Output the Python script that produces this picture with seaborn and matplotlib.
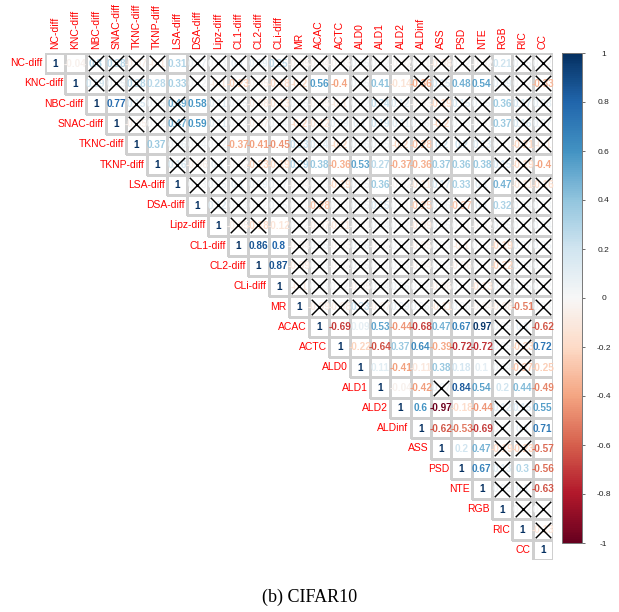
import numpy as np
import pandas as pd
import matplotlib
matplotlib.use("Agg")
import matplotlib.pyplot as plt
import seaborn as sns
from matplotlib.colors import ListedColormap, Normalize
from matplotlib.cm import ScalarMappable

variables = ["NC-diff", "KNC-diff", "NBC-diff", "SNAC-diff", "TKNC-diff", "TKNP-diff",
             "LSA-diff", "DSA-diff", "Lipz-diff", "CL1-diff", "CL2-diff", "CLi-diff",
             "MR", "ACAC", "ACTC", "ALD0", "ALD1", "ALD2", "ALDinf", "ASS", "PSD",
             "NTE", "RGB", "RIC", "CC"]

# upper-triangle correlations: row i holds values for columns i+1 .. end
upper_values = {
    "NC-diff":   [-0.04, 0.30, 0.28, -0.07, -0.10, 0.31, 0.07, 0.03, 0.10, 0.09, 0.25, -0.05,
                  -0.04, -0.03, 0.05, 0.02, -0.02, 0.01, -0.08, 0.02, -0.02, 0.21, 0.05, 0.02],
    "KNC-diff":  [0.19, 0.05, 0.28, 0.28, 0.33, 0.02, -0.10, -0.23, -0.05, -0.18, -0.20, 0.56,
                  -0.40, 0.05, 0.41, -0.14, -0.36, 0.15, 0.48, 0.54, 0.09, 0.02, -0.33],
    "NBC-diff":  [0.77, 0.15, 0.05, 0.49, 0.58, 0.11, 0.05, -0.08, -0.13, 0.05, -0.05, -0.10,
                  0.02, 0.24, 0.12, -0.03, -0.19, 0.15, 0.05, 0.36, 0.17, 0.08],
    "SNAC-diff": [-0.05, 0.02, 0.47, 0.59, 0.11, 0.03, -0.07, 0.04, -0.20, -0.12, 0.09, 0.10,
                  0.19, 0.11, 0.06, -0.20, 0.03, -0.01, 0.37, 0.16, 0.07],
    "TKNC-diff": [0.37, 0.06, 0.04, 0.02, -0.37, -0.41, -0.45, 0.23, 0.14, -0.20, 0.06, 0.05,
                  -0.20, -0.28, 0.20, 0.20, 0.13, 0.01, -0.21, -0.10],
    "TKNP-diff": [0.16, -0.06, 0.10, -0.02, -0.23, -0.19, 0.29, 0.38, -0.36, 0.53, 0.27, -0.37,
                  -0.36, 0.37, 0.36, 0.38, 0.15, -0.19, -0.40],
    "LSA-diff":  [0.03, 0.05, 0.10, 0.09, 0.07, -0.04, 0.03, -0.19, 0.05, 0.36, -0.02, -0.11,
                  0.17, 0.33, 0.10, 0.47, -0.11, -0.16],
    "DSA-diff":  [0.12, 0.03, 0.02, 0.05, 0.01, -0.28, 0.03, 0.05, 0.15, 0.01, -0.25, 0.06,
                  -0.27, 0.10, 0.32, 0.04, 0.03],
    "Lipz-diff": [-0.05, -0.18, -0.12, 0.02, -0.07, -0.11, -0.01, 0.04, 0.02, -0.09, 0.05,
                  0.01, -0.02, 0.05, 0.03, 0.04],
    "CL1-diff":  [0.86, 0.80, -0.04, 0.05, -0.03, 0.06, -0.02, 0.02, -0.05, 0.03, -0.10, 0.02,
                  -0.19, 0.07, 0.05],
    "CL2-diff":  [0.87, -0.09, 0.03, -0.02, 0.05, 0.01, 0.03, -0.04, 0.02, -0.06, 0.01, -0.22,
                  0.04, 0.03],
    "CLi-diff":  [-0.10, 0.03, 0.02, -0.05, 0.04, 0.06, 0.02, -0.06, 0.03, -0.13, 0.05, 0.05, 0.02],
    "MR":        [-0.09, -0.08, 0.23, -0.07, 0.09, 0.06, -0.11, 0.06, -0.04, -0.08, -0.51, 0.03],
    "ACAC":      [-0.69, 0.09, 0.53, -0.44, -0.68, 0.47, 0.67, 0.97, 0.05, 0.10, -0.62],
    "ACTC":      [-0.22, -0.64, 0.37, 0.64, -0.39, -0.72, -0.72, 0.05, -0.23, 0.72],
    "ALD0":      [0.11, -0.41, -0.11, 0.38, 0.18, 0.10, 0.04, -0.27, -0.25],
    "ALD1":      [-0.04, -0.42, 0.07, 0.84, 0.54, 0.20, 0.44, -0.49],
    "ALD2":      [0.60, -0.97, -0.18, -0.44, 0.12, 0.15, 0.55],
    "ALDinf":    [-0.62, -0.53, -0.69, 0.03, 0.10, 0.71],
    "ASS":       [0.20, 0.47, -0.19, -0.23, -0.57],
    "PSD":       [0.67, 0.13, 0.30, -0.56],
    "NTE":       [0.05, 0.10, -0.63],
    "RGB":       [0.02, 0.01],
    "RIC":       [-0.13],
}

# 1 = not significant (crossed out), parallel to upper_values
insignificant = {
    "NC-diff":   [0, 1, 1, 1, 1, 0, 1, 1, 1, 1, 1, 1, 1, 1, 1, 1, 1, 1, 1, 1, 1, 0, 1, 1],
    "KNC-diff":  [1, 1, 1, 0, 0, 1, 1, 1, 1, 1, 1, 0, 0, 1, 0, 0, 1, 1, 0, 0, 1, 1, 1],
    "NBC-diff":  [0, 1, 1, 1, 0, 1, 1, 1, 1, 1, 1, 1, 1, 1, 1, 1, 1, 1, 1, 0, 1, 1],
    "SNAC-diff": [1, 1, 1, 0, 1, 1, 1, 1, 1, 1, 1, 1, 1, 1, 1, 1, 1, 1, 0, 1, 1],
    "TKNC-diff": [0, 1, 1, 1, 0, 0, 0, 1, 1, 1, 1, 1, 1, 1, 1, 1, 1, 1, 1, 1],
    "TKNP-diff": [1, 1, 1, 1, 1, 1, 1, 0, 0, 0, 0, 0, 0, 0, 0, 0, 1, 1, 0],
    "LSA-diff":  [1, 1, 1, 1, 1, 1, 1, 1, 1, 0, 1, 1, 1, 0, 1, 0, 1, 1],
    "DSA-diff":  [1, 1, 1, 1, 1, 1, 1, 1, 1, 1, 1, 1, 1, 1, 0, 1, 1],
    "Lipz-diff": [1, 1, 0, 1, 1, 1, 1, 1, 1, 1, 1, 1, 1, 1, 1, 1],
    "CL1-diff":  [0, 0, 1, 1, 1, 1, 1, 1, 1, 1, 1, 1, 1, 1, 1],
    "CL2-diff":  [0, 1, 1, 1, 1, 1, 1, 1, 1, 1, 1, 1, 1, 1],
    "CLi-diff":  [1, 1, 1, 1, 1, 1, 1, 1, 1, 1, 1, 1, 1],
    "MR":        [1, 1, 1, 1, 1, 1, 1, 1, 1, 1, 0, 1],
    "ACAC":      [0, 0, 0, 0, 0, 0, 0, 0, 1, 1, 0],
    "ACTC":      [0, 0, 0, 0, 0, 0, 0, 1, 1, 0],
    "ALD0":      [0, 0, 0, 0, 0, 0, 1, 1, 0],
    "ALD1":      [0, 0, 1, 0, 0, 0, 0, 0],
    "ALD2":      [0, 0, 0, 0, 1, 1, 0],
    "ALDinf":    [0, 0, 0, 1, 1, 0],
    "ASS":       [0, 0, 1, 1, 0],
    "PSD":       [0, 1, 0, 0],
    "NTE":       [1, 1, 0],
    "RGB":       [1, 1],
    "RIC":       [1],
}

colorbar_ticks = [-1, -0.8, -0.6, -0.4, -0.2, 0, 0.2, 0.4, 0.6, 0.8, 1]
caption = "(b) CIFAR10"

# ---- build matrix ----
n = len(variables)
M = np.full((n, n), np.nan)
X = np.zeros((n, n), dtype=bool)
for i, name in enumerate(variables):
    M[i, i] = 1.0
    if name in upper_values:
        M[i, i + 1:] = upper_values[name]
        X[i, i + 1:] = np.array(insignificant[name], dtype=bool)
df = pd.DataFrame(M, index=variables, columns=variables)
lower_mask = np.tril(np.ones((n, n), dtype=bool), -1)

W, H = 619, 612
fig = plt.figure(figsize=(W / 100, H / 100), dpi=100)
fig.patch.set_facecolor("white")
ax = fig.add_axes([45 / W, 1 - 560 / H, 508 / W, 507 / H])
cax = fig.add_axes([562 / W, 1 - 543 / H, 20 / W, 490 / H])

sns.heatmap(df, mask=lower_mask, cmap=ListedColormap(["white"]), vmin=-1, vmax=1,
            cbar=False, linewidths=0.75, linecolor="#d0d0d0",
            xticklabels=False, yticklabels=False, ax=ax)
# white cells on white paper: keep only the outlines of the upper-triangle cells
mesh = ax.collections[0]
mesh.set_array(None)
mesh.set_facecolor("none")
edge_cols = np.array([(0.81, 0.81, 0.81, 1.0) if not lower_mask[i, j] else (1, 1, 1, 0)
                      for i in range(n) for j in range(n)])
mesh.set_edgecolor(edge_cols)
ax.set_xlabel("")
ax.set_ylabel("")
for s in ax.spines.values():
    s.set_visible(False)

cmap = plt.get_cmap("RdBu")
norm = Normalize(-1, 1)

def fmt(v):
    r = round(float(v), 2)
    return f"{r:g}"

for i in range(n):
    for j in range(i, n):
        v = M[i, j]
        ax.text(j + 0.5, i + 0.52, fmt(v), ha="center", va="center",
                fontsize=7.2, fontweight="bold", color=cmap(norm(v)),
                family="Liberation Sans", zorder=2)

xi, xj = np.nonzero(X)
ax.scatter(xj + 0.5, xi + 0.5, marker="x", s=125, c="black", linewidths=1.05, zorder=3)

for i, name in enumerate(variables):
    ax.text(i - 0.12, i + 0.5, name, ha="right", va="center", color="red",
            fontsize=7.5, family="Liberation Sans")
    ax.text(i + 0.5, -0.2, name, ha="center", va="bottom", rotation=90, color="red",
            fontsize=7.5, family="Liberation Sans")

cb = fig.colorbar(ScalarMappable(norm=norm, cmap=cmap), cax=cax)
cb.set_ticks(colorbar_ticks)
cb.set_ticklabels([f"{t:g}" for t in colorbar_ticks])
cb.outline.set_edgecolor("#777777")
cb.outline.set_linewidth(0.7)
cax.tick_params(length=2.5, width=0.6, color="#555555", labelsize=6, pad=13,
                labelcolor="#222222")
for lab in cax.get_yticklabels():
    lab.set_horizontalalignment("center")
    lab.set_family("Liberation Sans")

fig.text(310 / W, 1 - 597 / H, caption, ha="center", va="center",
         fontsize=13, family="Liberation Serif")

fig.savefig("out.png", dpi=100, facecolor="white")
